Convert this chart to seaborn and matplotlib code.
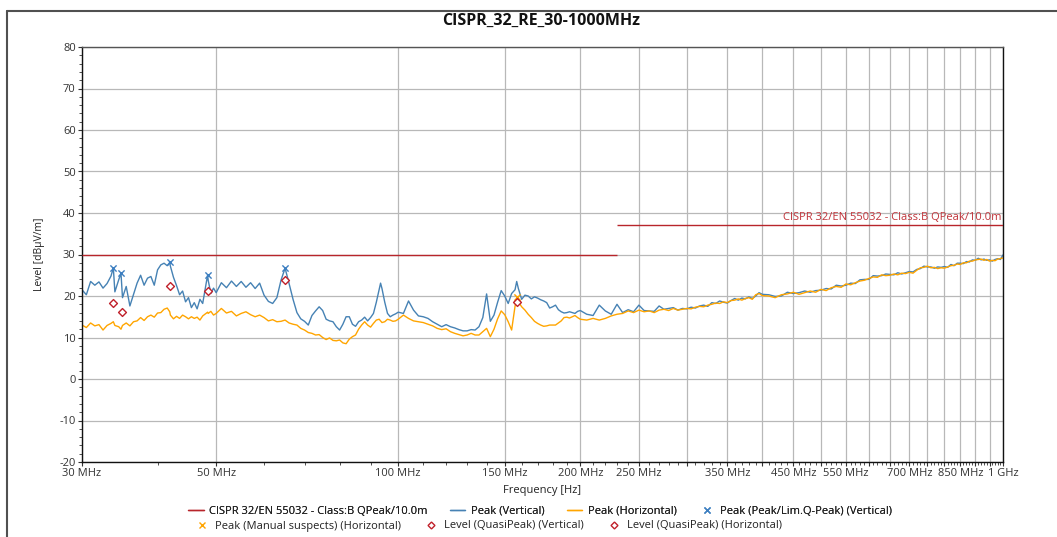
import matplotlib
matplotlib.use("Agg")
import matplotlib.pyplot as plt
import matplotlib.ticker as mticker
from matplotlib.lines import Line2D
import pandas as pd
import seaborn as sns

# sweep frequencies [MHz]
freq_mhz = [30.0, 30.5, 31.0, 31.5, 32.0, 32.5, 33.0, 33.5, 33.8, 34.0, 34.5, 34.8, 35.0, 35.5, 36.0,
            36.5, 37.0, 37.5, 38.0, 38.5, 39.0, 39.5, 40.0, 40.5, 41.0, 41.5, 41.9, 42.0, 42.5, 43.0,
            43.5, 44.0, 44.5, 45.0, 45.5, 46.0, 46.5, 47.0, 47.5, 48.0, 48.4, 48.5, 49.0, 49.5, 50.0,
            51, 52, 53, 54, 55, 56, 57, 58, 59, 60, 61, 62, 63, 64, 65, 66, 67, 68, 69, 70,
            71, 72, 73, 74, 75, 76, 77, 78, 79, 80, 81, 82, 83, 84, 85, 86, 87, 88, 89, 90,
            91, 92, 93, 93.5, 94, 95, 96, 97, 98, 99, 100,
            102, 104, 106, 108, 110, 112, 114, 116, 118, 120, 122, 124, 126, 128, 130, 132, 134, 136,
            138, 140, 142, 144, 146, 148, 150, 152, 154, 156, 157, 158, 160, 162, 164, 166, 168, 170,
            172, 174, 176, 178, 180, 182, 184, 186, 188, 190, 192, 194, 196, 198, 200,
            205, 210, 215, 220, 225, 230, 235, 240, 245, 250, 255, 260, 265, 270, 275, 280, 285, 290,
            295, 300, 305, 310, 315, 320, 325, 330, 335, 340, 345, 350, 355, 360, 365, 370, 375, 380,
            385, 390, 395, 400,
            410, 420, 430, 440, 450, 460, 470, 480, 490, 500, 510, 520, 530, 540, 550, 560, 570, 580,
            590, 600, 610, 620, 630, 640, 650, 660, 670, 680, 690, 700, 710, 720, 730, 740, 750, 760,
            770, 780, 790, 800, 810, 820, 830, 840, 850, 860, 870, 880, 890, 900, 910, 920, 930, 940,
            950, 960, 970, 980, 990, 1000]

# Peak (Vertical) [dBuV/m]
peak_vertical = [21.5, 20.3, 23.5, 22.6, 23.4, 21.9, 23.0, 24.8, 26.8, 21.0, 23.9, 25.5, 19.6, 22.3, 17.6,
                 20.4, 23.1, 25.0, 22.6, 24.3, 24.7, 22.6, 26.3, 27.5, 27.9, 27.3, 28.1, 27.2, 24.5, 22.5,
                 20.3, 21.2, 18.6, 19.6, 17.2, 18.4, 16.9, 19.2, 18.2, 22.0, 25.1, 23.8, 20.6, 21.9, 20.8,
                 23.2, 22.0, 23.6, 22.3, 23.5, 22.1, 23.2, 21.8, 23.1, 20.2,
                 18.7, 18.2, 19.6, 23.8, 26.7, 23.0, 19.2, 16.0, 14.5, 13.9,
                 13.0, 15.3, 16.4, 17.4, 16.5, 14.4, 14.0, 13.8, 12.6, 11.8,
                 13.2, 15.0, 15.0, 13.2, 12.7, 13.8, 14.2, 14.9, 14.0, 14.8,
                 15.8, 18.5, 21.5, 23.1, 21.8, 18.5, 15.8, 15.0, 15.4, 15.7, 16.1,
                 15.8, 18.8, 16.6, 15.2, 15.0, 14.6, 13.8, 13.2, 12.6, 13.1,
                 12.6, 12.3, 11.9, 11.6, 11.6, 11.9, 11.8, 12.6, 14.8, 20.5,
                 13.9, 15.4, 18.5, 21.3, 20.0, 18.2, 20.6, 21.5, 23.5,
                 21.8, 19.2, 20.2, 20.0, 19.3, 19.8, 19.5, 19.1, 18.8, 18.4, 17.1,
                 17.4, 17.8, 16.7, 16.2, 15.9, 16.0, 16.2, 16.0, 15.8, 16.3, 16.5,
                 15.6, 15.3, 17.8, 16.4, 15.6, 18.0, 16.0, 16.7, 16.2, 17.8,
                 16.5, 16.4, 16.3, 17.6, 16.8, 17.0, 17.2, 16.6, 17.0, 16.9,
                 17.3, 17.1, 17.6, 17.8, 17.5, 18.4, 18.2, 18.8, 18.5, 18.3,
                 18.9, 19.4, 19.0, 19.5, 19.3, 19.8, 19.4, 20.0, 20.8, 20.4,
                 20.3, 19.9, 20.0, 20.9, 20.6, 20.8, 21.2, 20.9, 21.3, 21.4,
                 21.8, 21.7, 22.6, 22.4, 22.6, 23.1, 23.0, 23.9, 24.0, 24.0,
                 24.9, 24.8, 24.9, 25.3, 25.2, 25.1, 25.6, 25.3, 25.6, 25.9,
                 25.8, 26.4, 26.6, 27.2, 27.0, 27.0, 26.7, 27.0, 26.9, 27.1,
                 26.9, 27.6, 27.3, 27.9, 27.9, 27.8, 28.3, 28.2, 28.7, 28.6,
                 29.1, 28.7, 28.9, 28.6, 28.7, 28.4, 28.8, 29.0, 28.8, 29.9]

# Peak (Horizontal) [dBuV/m]
peak_horizontal = [13.0, 12.4, 13.5, 12.8, 13.1, 11.8, 12.9, 13.4, 13.8, 12.9, 12.6, 12.0, 12.9, 13.5, 12.8,
                   13.8, 14.0, 14.8, 14.1, 15.0, 15.4, 14.9, 15.9, 16.0, 16.8, 17.1, 16.2, 15.4, 14.5, 15.1,
                   14.6, 15.4, 15.0, 14.5, 15.0, 14.6, 14.9, 14.2, 15.2, 15.7, 16.1, 15.8, 16.3, 15.4, 15.8,
                   17.0, 15.9, 16.3, 15.2, 15.8, 16.2, 15.5, 15.0, 15.4, 14.8,
                   14.0, 14.3, 13.8, 13.9, 14.2, 13.5, 13.2, 13.0, 12.2, 11.8,
                   11.2, 11.0, 10.6, 10.7, 10.0, 9.5, 9.9, 9.3, 9.2, 9.4,
                   8.7, 8.5, 9.6, 10.2, 10.6, 12.0, 13.0, 13.8, 13.0, 12.5,
                   13.4, 14.2, 14.4, 14.0, 13.6, 13.8, 14.4, 14.2, 13.9, 14.0, 14.4,
                   15.4, 14.6, 14.0, 13.8, 13.6, 13.2, 12.8, 12.2, 11.9, 12.1,
                   11.4, 11.0, 10.7, 10.4, 10.6, 11.0, 10.6, 10.6, 11.4, 12.2,
                   10.2, 12.0, 14.5, 16.4, 15.5, 13.8, 11.8, 17.5, 19.5,
                   18.6, 17.4, 16.6, 15.6, 14.8, 13.9, 13.4, 13.0, 12.7, 12.8, 13.0,
                   13.0, 13.0, 13.5, 14.0, 14.8, 14.9, 14.7, 15.0, 15.3, 14.8, 14.4,
                   14.2, 14.6, 14.2, 14.6, 15.2, 15.6, 15.8, 16.4, 16.0, 16.6,
                   16.2, 16.4, 16.0, 16.6, 16.8, 16.5, 17.0, 16.6, 16.8, 17.0,
                   16.9, 17.3, 17.5, 17.4, 17.8, 18.0, 18.3, 18.2, 18.6, 18.4,
                   18.9, 19.0, 19.3, 19.0, 19.4, 19.6, 19.2, 20.3, 20.6, 20.1,
                   20.0, 19.6, 20.3, 20.5, 20.9, 20.4, 20.8, 21.2, 20.9, 21.6,
                   21.3, 22.0, 22.3, 22.1, 22.9, 22.7, 23.2, 23.6, 23.8, 24.2,
                   24.6, 24.5, 25.1, 24.9, 25.0, 25.3, 25.1, 25.5, 25.4, 25.7,
                   25.5, 26.2, 26.8, 26.9, 27.2, 26.8, 26.9, 26.6, 26.8, 26.7,
                   27.0, 27.3, 27.4, 27.7, 27.6, 28.0, 28.0, 28.4, 28.4, 28.7,
                   28.8, 28.9, 28.6, 28.8, 28.4, 28.6, 28.5, 28.9, 29.0, 29.2]

# limit CISPR 32 class B, 10 m
limit_start = [30, 230]
limit_stop = [230, 1000]
limit_level = [30, 37]

# final / suspect markers
peak_lim_freq = [33.8, 34.8, 41.9, 48.4, 65.0]
peak_lim_level = [26.8, 25.5, 28.1, 25.1, 26.7]
manual_freq = [157.0]
manual_level = [19.8]
qp_vert_freq = [33.8, 34.9, 41.9, 48.4, 65.0]
qp_vert_level = [18.4, 16.2, 22.4, 21.3, 23.9]
qp_horiz_freq = [157.0]
qp_horiz_level = [18.5]

tick_freqs = [30, 50, 100, 150, 200, 250, 350, 450, 550, 700, 850, 1000]
tick_labels = ["30 MHz", "50 MHz", "100 MHz", "150 MHz", "200 MHz", "250 MHz", "350 MHz",
               "450 MHz", "550 MHz", "700 MHz", "850 MHz", "1 GHz"]

BLUE = "#4682b4"
ORANGE = "#ffa500"
RED = "#b8252b"

sns.set_theme(style="white")
plt.rcParams["font.family"] = ["Open Sans", "DejaVu Sans"]
plt.rcParams["text.color"] = "#222222"
plt.rcParams["axes.unicode_minus"] = False

fig = plt.figure(figsize=(10.57, 5.37), dpi=100)
ax = fig.add_axes([82 / 1057, 1 - 462 / 537, 921 / 1057, 415 / 537])
ax.set_xscale("log")

df = pd.DataFrame({
    "freq": freq_mhz + freq_mhz,
    "level": peak_vertical + peak_horizontal,
    "trace": ["Peak (Vertical)"] * len(freq_mhz) + ["Peak (Horizontal)"] * len(freq_mhz),
})
sns.lineplot(data=df, x="freq", y="level", hue="trace",
             hue_order=["Peak (Vertical)", "Peak (Horizontal)"],
             palette={"Peak (Vertical)": BLUE, "Peak (Horizontal)": ORANGE},
             estimator=None, sort=False, linewidth=1.0, legend=False, ax=ax)

ax.hlines(limit_level, limit_start, limit_stop, colors=RED, linewidth=1.0, zorder=3)
ax.text(996, 37.6, "CISPR 32/EN 55032 - Class:B QPeak/10.0m", color="#c0343a",
        fontsize=8, ha="right", va="bottom")

sns.scatterplot(x=peak_lim_freq, y=peak_lim_level, marker="x", color="#3d7fc1", s=20,
                linewidth=1.0, ax=ax, zorder=4)
sns.scatterplot(x=manual_freq, y=manual_level, marker="x", color=ORANGE, s=20,
                linewidth=1.0, ax=ax, zorder=4)
sns.scatterplot(x=qp_vert_freq, y=qp_vert_level, marker="D", facecolor="white",
                edgecolor="#c0202a", s=16, linewidth=1.0, ax=ax, zorder=5)
sns.scatterplot(x=qp_horiz_freq, y=qp_horiz_level, marker="D", facecolor="white",
                edgecolor="#c0202a", s=16, linewidth=1.0, ax=ax, zorder=5)

ax.set_xlim(30, 1000)
ax.set_ylim(-20, 80)

# grid every 50 MHz, labels only on some of them
grid_freqs = [30, 50, 100, 150, 200, 250, 300, 350, 400, 450, 500, 550, 600, 650, 700,
              750, 800, 850, 900, 950, 1000]
ax.xaxis.set_major_locator(mticker.FixedLocator(grid_freqs))
ax.xaxis.set_major_formatter(mticker.FixedFormatter(
    [tick_labels[tick_freqs.index(f)] if f in tick_freqs else "" for f in grid_freqs]))
minor = [f for f in range(40, 1000, 10) if f % 50 != 0]
ax.xaxis.set_minor_locator(mticker.FixedLocator(minor))
ax.xaxis.set_minor_formatter(mticker.NullFormatter())

ax.yaxis.set_major_locator(mticker.MultipleLocator(10))
ax.yaxis.set_minor_locator(mticker.MultipleLocator(2))

ax.grid(True, which="major", color="#b8b8b8", linewidth=0.9)
ax.tick_params(axis="both", which="major", direction="out", length=3, width=0.8,
               color="#333333", labelsize=8, labelcolor="#333333", pad=1.5,
               bottom=True, left=True)
ax.tick_params(axis="both", which="minor", direction="out", length=2, width=0.6,
               color="#333333", bottom=True, left=True)
for side in ["left", "bottom", "right"]:
    ax.spines[side].set_color("#111111")
    ax.spines[side].set_linewidth(1.0)
ax.spines["top"].set_color("#555555")
ax.spines["top"].set_linewidth(1.0)

ax.set_xlabel("Frequency [Hz]", fontsize=8, color="#222222", labelpad=4)
ax.set_ylabel("Level [dB\u03bcV/m]", fontsize=7.5, color="#222222", labelpad=10)

fig.text(541 / 1057, 1 - 21 / 537, "CISPR_32_RE_30-1000MHz", ha="center", va="center",
         fontsize=11.5, fontweight="bold", color="#111111")

# outer frame of the report
fig.add_artist(Line2D([7 / 1057, 1], [1 - 11 / 537, 1 - 11 / 537], transform=fig.transFigure,
                      color="#505050", linewidth=1.5))
fig.add_artist(Line2D([7 / 1057, 7 / 1057], [0, 1 - 11 / 537], transform=fig.transFigure,
                      color="#505050", linewidth=1.5))

row1 = [Line2D([], [], color=RED, linewidth=1.0),
        Line2D([], [], color=BLUE, linewidth=1.0),
        Line2D([], [], color=ORANGE, linewidth=1.0),
        Line2D([], [], color="#3d7fc1", marker="x", linestyle="none", markersize=4)]
row1_labels = ["CISPR 32/EN 55032 - Class:B QPeak/10.0m", "Peak (Vertical)",
               "Peak (Horizontal)", "Peak (Peak/Lim.Q-Peak) (Vertical)"]
row2 = [Line2D([], [], color=ORANGE, marker="x", linestyle="none", markersize=4),
        Line2D([], [], color="#c0202a", marker="D", markerfacecolor="white",
               linestyle="none", markersize=3.5),
        Line2D([], [], color="#c0202a", marker="D", markerfacecolor="white",
               linestyle="none", markersize=3.5)]
row2_labels = ["Peak (Manual suspects) (Horizontal)", "Level (QuasiPeak) (Vertical)",
               "Level (QuasiPeak) (Horizontal)"]

leg_kw = dict(frameon=False, fontsize=8, handlelength=1.4, handletextpad=0.5,
              columnspacing=2.0, borderpad=0, borderaxespad=0)
l1 = fig.legend(row1, row1_labels, ncol=4, loc="center",
                bbox_to_anchor=(540 / 1057, 1 - 511 / 537), **leg_kw)
fig.legend(row2, row2_labels, ncol=3, loc="center",
           bbox_to_anchor=(488 / 1057, 1 - 526 / 537), **leg_kw)
fig.add_artist(l1)

fig.savefig("out.png", dpi=100)
